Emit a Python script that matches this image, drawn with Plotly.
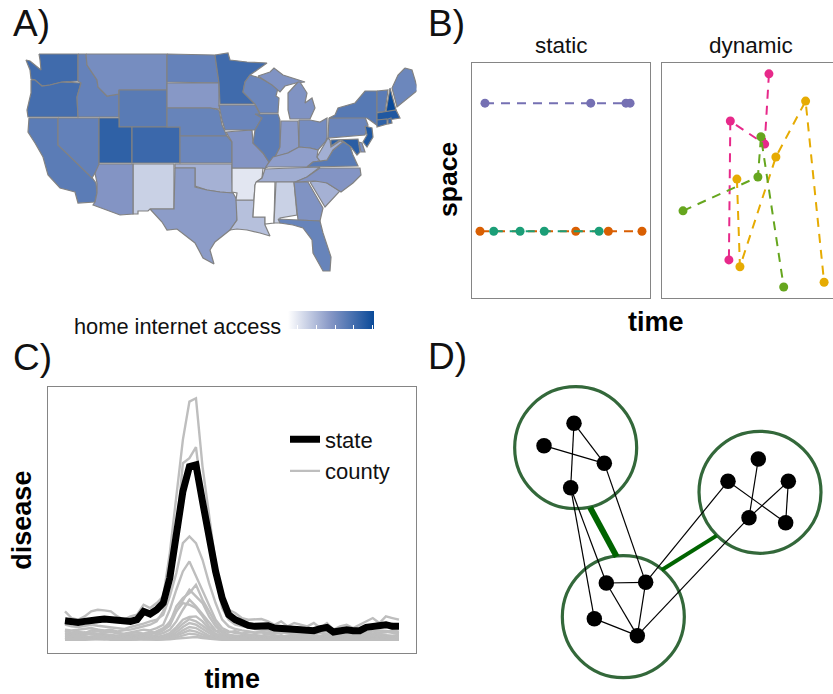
import plotly.graph_objects as go
from plotly.colors import sample_colorscale

FIG_W, FIG_H = 833, 694

# ---------- Panel A data: state outlines (map units) and internet access values
state_outlines = {
 "WA": [(39,54),(78,54),(78,81),(62,82),(50,85),(42,86),(35,80),(31,79),(30,70),(26,60),(30,61),(35,65),(38,68),(41,70),(40,60)],
 "OR": [(31,80),(35,80),(42,86),(50,85),(62,82),(81,83),(77,97),(78,117),(28,117),(27,110),(31,93)],
 "CA": [(29,118),(58,118),(58,145),(90,175),(96,183),(97,193),(95,202),(78,203),(75,192),(60,188),(48,175),(43,157),(35,143),(28,132)],
 "NV": [(58,118),(99,118),(99,173),(95,173),(92,178),(58,145)],
 "ID": [(78,54),(86,54),(87,65),(97,80),(98,87),(107,96),(119,94),(119,117),(78,117),(77,97),(81,83),(78,81)],
 "MT": [(86,54),(167,54),(167,90),(119,90),(119,94),(107,96),(98,87),(97,80),(87,65)],
 "WY": [(119,90),(167,90),(167,127),(119,127)],
 "UT": [(99,118),(119,118),(119,127),(132,127),(132,163),(99,163)],
 "CO": [(132,127),(180,127),(180,163),(132,163)],
 "ND": [(167,54),(215,55),(217,70),(219,83),(167,82)],
 "SD": [(167,83),(219,83),(219,105),(220,109),(210,108),(167,108)],
 "NE": [(167,108),(210,108),(219,110),(222,125),(227,136),(180,136),(180,127),(167,127)],
 "KS": [(180,136),(227,136),(232,142),(232,163),(180,163)],
 "OK": [(175,164),(232,164),(232,178),(233,193),(220,192),(207,190),(195,186),(195,168),(175,168)],
 "NM": [(133,164),(174,164),(174,209),(150,209),(148,211),(138,211),(138,214),(133,214)],
 "AZ": [(99,164),(133,164),(133,214),(120,215),(93,205),(95,202),(97,193),(97,183),(95,173)],
 "TX": [(175,168),(195,168),(195,187),(207,190),(220,192),(233,193),(237,200),(237,220),(230,230),(215,242),(210,250),(214,264),(203,258),(195,243),(177,229),(167,230),(162,222),(150,209),(174,209)],
 "LA": [(236,200),(254,200),(253,217),(265,217),(265,225),(270,236),(260,233),(247,230),(237,229),(230,230),(237,220)],
 "AR": [(232,168),(263,168),(262,178),(255,185),(254,200),(236,200),(237,193),(232,192)],
 "MO": [(226,132),(252,130),(253,143),(263,153),(269,162),(265,169),(263,168),(232,168),(232,142)],
 "IA": [(219,105),(255,105),(262,118),(255,130),(225,130),(222,120)],
 "MN": [(215,55),(228,53),(230,60),(247,62),(267,63),(250,75),(245,82),(243,92),(255,104),(220,104),(219,83)],
 "WI": [(250,75),(260,78),(278,88),(276,96),(279,98),(278,113),(260,113),(255,104),(243,92),(245,82)],
 "MIU": [(258,76),(270,72),(274,68),(283,75),(305,82),(296,83),(285,86),(280,92),(272,85)],
 "MIL": [(298,82),(288,93),(288,110),(290,119),(310,119),(315,108),(312,98),(305,103),(307,93),(300,82)],
 "IL": [(255,114),(278,114),(280,120),(280,147),(275,157),(269,162),(263,153),(253,143),(255,130),(262,118)],
 "IN": [(281,121),(298,121),(299,147),(288,153),(275,157),(280,147)],
 "OH": [(299,120),(310,120),(320,122),(327,118),(327,137),(326,141),(318,150),(310,148),(299,147)],
 "KY": [(265,168),(273,157),(288,153),(299,147),(310,148),(318,150),(317,157),(320,161),(313,162),(307,167),(268,167)],
 "TN": [(265,169),(320,167),(307,177),(296,182),(256,182),(262,178)],
 "MS": [(256,182),(275,182),(274,223),(265,224),(265,217),(253,217),(254,200),(255,185)],
 "AL": [(276,182),(294,182),(297,215),(280,218),(280,223),(274,223)],
 "GA": [(294,182),(308,182),(323,208),(320,221),(298,220)],
 "FL": [(278,219),(298,220),(320,221),(323,233),(331,257),(330,271),(323,271),(313,253),(312,240),(303,228),(293,225),(280,223)],
 "SC": [(310,182),(322,180),(327,183),(340,191),(325,207)],
 "NC": [(320,168),(360,168),(361,175),(353,183),(341,192),(327,183),(315,181),(295,182),(307,177)],
 "VA": [(307,167),(313,162),(320,161),(327,160),(333,150),(343,142),(350,146),(353,155),(358,166)],
 "WV": [(317,157),(326,141),(328,138),(330,140),(331,147),(340,141),(343,142),(333,150),(327,160),(320,161)],
 "PA": [(329,118),(365,117),(368,125),(365,135),(328,138)],
 "NY": [(335,115),(338,108),(355,103),(365,91),(377,91),(377,120),(378,126),(373,122),(367,118),(329,118)],
 "NJ": [(365,126),(372,128),(373,137),(367,147),(363,142),(367,135)],
 "DE": [(359,142),(361,152),(365,152),(362,143)],
 "MD": [(331,140),(358,139),(360,152),(357,155),(351,147),(343,141),(340,140),(331,146)],
 "VT": [(377,91),(388,90),(385,112),(377,112)],
 "NH": [(390,88),(392,95),(396,110),(386,112)],
 "ME": [(405,68),(412,70),(418,90),(408,98),(397,107),(392,88),(398,75)],
 "MA": [(377,113),(396,110),(400,118),(388,120),(377,120)],
 "CT": [(377,120),(387,119),(387,124),(377,127)],
 "RI": [(388,119),(391,118),(392,123),(388,124)],
}
internet_access = {
 "WA":.78,"OR":.76,"CA":.67,"NV":.64,"ID":.63,"MT":.56,"WY":.68,"UT":.85,"CO":.80,"ND":.63,"SD":.49,
 "NE":.62,"KS":.60,"OK":.37,"NM":.22,"AZ":.51,"TX":.47,"LA":.30,"AR":.12,"MO":.51,"IA":.61,"MN":.78,
 "WI":.60,"MIU":.52,"MIL":.52,"IL":.67,"IN":.48,"OH":.56,"KY":.46,"TN":.39,"MS":.0,"AL":.22,"GA":.52,
 "FL":.62,"SC":.37,"NC":.51,"VA":.68,"WV":.38,"PA":.61,"NY":.69,"NJ":.91,"DE":.53,"MD":.87,"VT":.67,
 "NH":1.0,"ME":.60,"MA":.91,"CT":.85,"RI":.80,
}
access_scale = [[0, "#FFFFFF"], [0.5, "#8596C5"], [1, "#0A4A99"]]
legend_ticks = [0.116, 0.337, 0.547, 0.756, 0.977]

# ---------- Panel B data
static_series = [
 ("#7570B3", [7.3, 66.7, 86.5, 88.8], [82.9, 82.9, 82.9, 82.9]),
 ("#D95F02", [4.5, 58.3, 76.6, 95.5], [28.4, 28.4, 28.4, 28.4]),
 ("#1B9E77", [12.2, 27.0, 40.6, 71.4], [28.4, 28.4, 28.4, 28.4]),
]
dynamic_series = [
 ("#E7298A", [60.1, 57.7, 38.4, 37.6], [95.4, 65.5, 75.3, 16.2]),
 ("#E6AB02", [42.1, 43.8, 64.0, 80.7, 91.1], [50.6, 13.3, 60.0, 83.8, 6.7]),
 ("#66A61E", [11.8, 53.9, 55.6, 68.4], [37.1, 51.5, 68.6, 4.7]),
]

# ---------- Panel C data
state_disease = [57,52,52,55,60,60,62,60,55,52,55,60,85,77,90,110,185,315,445,520,525,415,305,205,125,75,60,50,43,40,42,42,35,35,35,33,30,28,27,33,37,23,29,30,27,27,37,40,42,45,40,40]
county_disease = [
 [85,65,60,70,85,90,88,85,70,60,70,75,105,95,110,130,260,440,600,715,725,520,370,230,130,90,80,65,60,60,62,55,45,55,40,50,45,40,50,35,50,30,40,45,35,45,55,65,50,70,65,60],
 [30,28,30,32,35,30,28,30,25,28,30,35,40,45,55,85,170,320,530,545,578,420,300,190,95,60,45,40,35,32,30,28,25,22,25,20,22,18,20,22,25,15,20,18,22,20,22,25,28,26,22,20],
 [45,40,38,42,45,42,40,38,35,32,38,42,48,55,60,75,130,200,290,310,290,240,170,110,60,40,32,28,25,22,24,20,18,22,18,16,18,15,17,20,14,12,16,14,15,18,16,20,22,24,20,18],
 [25,22,24,20,28,30,26,24,20,18,22,25,30,28,35,45,90,150,205,235,190,150,100,60,35,25,20,18,15,14,12,16,14,10,12,14,12,10,13,11,14,9,12,10,13,12,14,16,15,13,12,14],
 [15,18,16,14,20,18,15,13,12,10,14,16,18,15,25,35,50,100,125,140,165,120,85,50,25,14,12,10,12,9,10,8,10,12,8,9,10,7,9,8,10,6,8,9,7,8,10,12,11,9,10,8],
 [20,15,18,22,16,14,12,15,10,12,16,14,12,18,20,28,42,85,118,150,130,110,70,40,20,15,10,12,9,10,8,10,7,9,10,6,8,9,7,10,8,6,9,7,8,10,9,11,8,10,7,9],
 [10,12,14,10,8,12,10,9,8,10,7,10,12,9,15,20,30,55,90,120,100,75,50,28,14,10,8,9,6,8,7,6,8,5,7,8,6,5,7,6,8,5,6,7,5,6,8,7,9,6,7,8],
 [8,10,6,9,7,12,8,6,9,7,5,8,10,12,8,12,20,38,60,68,70,55,32,18,10,6,8,5,7,4,6,5,7,4,5,6,4,5,3,6,4,5,3,4,6,5,4,6,5,4,6,5],
 [6,4,8,5,10,6,4,7,3,6,8,4,6,8,10,8,14,30,48,62,55,42,28,12,8,5,3,6,4,5,3,4,2,5,3,4,5,2,4,3,5,2,3,4,2,3,5,4,3,5,4,3],
 [3,5,2,6,4,3,5,2,4,3,6,3,5,4,6,5,10,22,38,50,45,32,20,9,5,3,4,2,3,4,1,3,2,4,2,3,1,3,2,4,1,2,3,1,2,4,3,2,3,2,3,4],
 [12,9,7,10,6,8,5,7,4,6,5,4,7,6,4,5,8,15,28,38,35,24,12,7,4,2,3,1,2,3,2,1,3,2,1,2,3,1,2,1,3,1,2,1,2,1,3,2,1,3,2,1],
 [1,3,1,2,4,2,1,3,2,1,2,3,1,2,3,2,5,12,20,28,24,15,8,4,2,1,2,1,1,2,0,1,2,1,0,1,2,0,1,2,0,1,1,0,1,2,1,0,2,1,0,1],
 [5,2,4,1,3,5,2,1,3,0,2,1,3,1,0,2,3,7,12,18,16,9,5,2,1,0,1,2,0,1,0,1,0,2,0,1,0,1,0,0,1,0,1,0,0,1,0,1,0,1,0,1],
 [0,1,0,0,1,0,2,0,1,0,0,1,0,1,0,0,1,3,5,7,8,5,2,1,0,0,0,1,0,0,0,0,1,0,0,0,0,1,0,0,0,0,0,1,0,0,0,0,1,0,0,0],
 [28,20,24,18,22,26,20,24,18,16,20,22,18,24,20,30,55,85,110,105,95,70,40,25,28,22,26,18,24,20,22,16,22,18,24,16,20,14,18,22,16,20,14,18,22,24,18,26,20,22,28,24],
]

# ---------- Panel D data
community_x = [467, 1020, 610]
community_y = [308, 442, 815]
node_pos = {
 "A":(462,235),"B":(372,302),"C":(553,355),"D":(452,428),
 "E":(1015,342),"F":(924,409),"G":(1105,409),"H":(987,518),"I":(1097,533),
 "J":(559,714),"K":(677,712),"L":(523,821),"M":(652,872),
}
edges = ["AD","AC","BC","DL","DJ","CK","JK","JM","KM","LM","KF","MH","EH","FI","GH","GI"]
strong_links = [((510,487),(590,635),6), ((725,675),(890,572),4)]

# ---------- helpers
def xdom(a, b): return [a / FIG_W, min(b / FIG_W, 1)]
def ydom(top, bottom): return [1 - bottom / FIG_H, 1 - top / FIG_H]
def px(x): return x / FIG_W
def py(y): return 1 - y / FIG_H

FRAME = "#858585"
hidden = dict(visible=False, fixedrange=True)
fig = go.Figure()

# Panel A
for name, pts in state_outlines.items():
    col = sample_colorscale(access_scale, [internet_access[name]])[0]
    fig.add_trace(go.Scatter(
        x=[p[0] for p in pts] + [pts[0][0]], y=[p[1] for p in pts] + [pts[0][1]],
        mode="lines", fill="toself", fillcolor=col, line=dict(color="#828282", width=1.2),
        name=name, showlegend=False, hoverinfo="name", xaxis="x", yaxis="y"))
fig.add_trace(go.Scatter(
    x=[None], y=[None], mode="markers", showlegend=False, xaxis="x", yaxis="y",
    marker=dict(color=[0.5], cmin=0, cmax=1, colorscale=access_scale, showscale=True,
        colorbar=dict(orientation="h", x=px(331), xanchor="center", y=py(322), yanchor="middle",
            len=86, lenmode="pixels", thickness=18, thicknessmode="pixels", xpad=0, ypad=0,
            outlinewidth=0, borderwidth=0, ticks="inside", ticklen=4, tickwidth=1, tickcolor="white",
            tickmode="array", tickvals=legend_ticks, showticklabels=False))))

# Panel B
for axes, series in (("2", static_series), ("3", dynamic_series)):
    for col, xs, ys in series:
        fig.add_trace(go.Scatter(x=xs, y=ys, mode="lines+markers", showlegend=False,
            line=dict(color=col, width=2, dash="9px,7px"), marker=dict(color=col, size=9),
            xaxis="x" + axes, yaxis="y" + axes))

# Panel C
weeks = list(range(len(state_disease)))
for i, vals in enumerate(county_disease):
    fig.add_trace(go.Scatter(x=weeks, y=vals, mode="lines", name="county", legendgroup="county",
        showlegend=False, line=dict(color="#BEBEBE", width=2.4), xaxis="x4", yaxis="y4"))
fig.add_trace(go.Scatter(x=weeks, y=state_disease, mode="lines", name="state",
    line=dict(color="black", width=7), xaxis="x4", yaxis="y4"))
fig.add_trace(go.Scatter(x=[None], y=[None], mode="lines", name="county",
    line=dict(color="#BEBEBE", width=2.4), xaxis="x4", yaxis="y4"))

# Panel D
fig.add_trace(go.Scatter(x=community_x, y=community_y, mode="markers", showlegend=False,
    marker=dict(size=122, color="rgba(0,0,0,0)", line=dict(color="#33683A", width=3.2)),
    xaxis="x5", yaxis="y5"))
for a, b, w in strong_links:
    fig.add_trace(go.Scatter(x=[a[0], b[0]], y=[a[1], b[1]], mode="lines", showlegend=False,
        line=dict(color="#006400", width=w), xaxis="x5", yaxis="y5"))
ex, ey = [], []
for e in edges:
    ex += [node_pos[e[0]][0], node_pos[e[1]][0], None]
    ey += [node_pos[e[0]][1], node_pos[e[1]][1], None]
fig.add_trace(go.Scatter(x=ex, y=ey, mode="lines", showlegend=False,
    line=dict(color="black", width=1.2), xaxis="x5", yaxis="y5"))
fig.add_trace(go.Scatter(x=[p[0] for p in node_pos.values()], y=[p[1] for p in node_pos.values()],
    mode="markers", showlegend=False, marker=dict(size=15.5, color="black"), xaxis="x5", yaxis="y5"))

framed = dict(showline=True, linecolor=FRAME, linewidth=1.3, showgrid=False, zeroline=False,
              showticklabels=False, ticks="", fixedrange=True, automargin=False)

def label(text, x, y, size, bold=False, angle=0, anchor="center"):
    return dict(text=text, x=px(x), y=py(y), xref="paper", yref="paper", showarrow=False,
                xanchor=anchor, yanchor="middle", textangle=angle,
                font=dict(size=size, color="#111111" if not bold else "black",
                          family="Liberation Sans", weight=700 if bold else 400))

annotations = [
    label("A)", 11, 23, 37, anchor="left"),
    label("B)", 426, 23, 37, anchor="left"),
    label("C)", 11, 358, 37, anchor="left"),
    label("D)", 426, 356, 37, anchor="left"),
    label("home internet access", 72, 327, 21.8, anchor="left"),
    label("static", 561, 45, 22.5),
    label("dynamic", 751, 45, 22.5),
    label("space", 448, 180, 26.5, bold=True, angle=-90),
    label("time", 656, 322, 27, bold=True),
]

fig.update_layout(
    width=FIG_W, height=FIG_H, autosize=False, margin=dict(l=0, r=0, t=0, b=0),
    paper_bgcolor="white", plot_bgcolor="white", font=dict(family="Liberation Sans"),
    annotations=annotations,
    legend=dict(x=px(285), y=py(418.5), xanchor="left", yanchor="top", bgcolor="rgba(0,0,0,0)",
                font=dict(size=22, color="#111111"), itemwidth=30, traceorder="normal"),
    xaxis=dict(domain=xdom(0, 416.5), range=[0, 416.5], anchor="y", automargin=False, **hidden),
    yaxis=dict(domain=ydom(0, 340), range=[340, 0], anchor="x", automargin=False, **hidden),
    xaxis2=dict(domain=xdom(472, 650), range=[0, 100], mirror=True, anchor="y2", **framed),
    yaxis2=dict(domain=ydom(63, 298), range=[0, 100], mirror=True, anchor="x2", **framed),
    xaxis3=dict(domain=xdom(662, 833), range=[0, 96.1], mirror=True, anchor="y3", **framed),
    yaxis3=dict(domain=ydom(63, 298), range=[0, 100], anchor="x3", **framed),
    xaxis4=dict(domain=xdom(48.3, 416), range=[-2.55, 53.6], mirror=True, anchor="y4",
                title=dict(text="time", standoff=17, font=dict(size=27, color="black", weight=700)), **framed),
    yaxis4=dict(domain=ydom(387.3, 653), range=[-40, 758], mirror=True, anchor="x4",
                title=dict(text="disease", standoff=7, font=dict(size=27, color="black", weight=700)), **framed),
    xaxis5=dict(domain=xdom(420, 833), range=[0, 1239], anchor="y5", automargin=False, **hidden),
    yaxis5=dict(domain=ydom(345, 694), range=[1047, 0], anchor="x5", automargin=False, **hidden),
)
fig.write_html("out.html", config=dict(displayModeBar=False),
               post_script="document.body.style.margin='0';")
